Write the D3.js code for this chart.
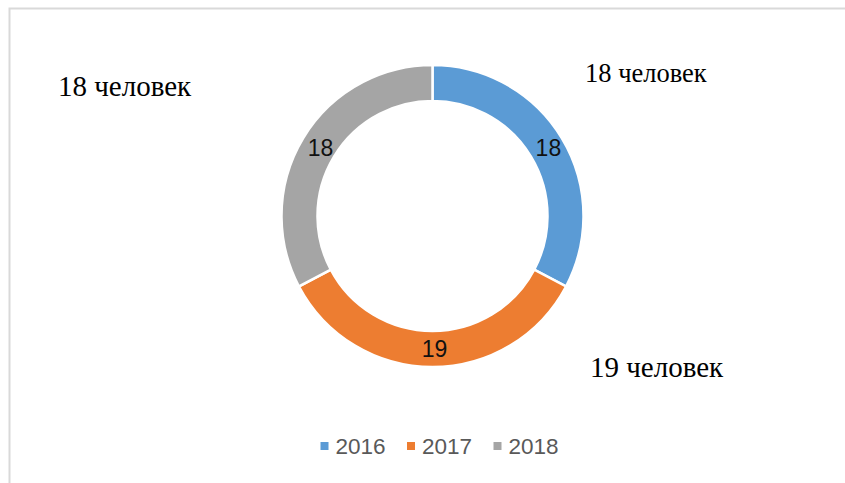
<!DOCTYPE html>
<html>
<head>
<meta charset="utf-8">
<script src="https://cdn.jsdelivr.net/npm/d3@7"></script>
<style>
  body { margin: 0; background: #fff; }
</style>
</head>
<body>
<script>
var w = 845;
var h = 483;

// data
var years = ["2016", "2017", "2018"];
var people = [18, 19, 18];
var notes = ["18 человек", "19 человек", "18 человек"];
var colors = ["#5B9BD5", "#ED7D31", "#A5A5A5"];

var cx = 432.5;
var cy = 216;
var outerR = 151;
var innerR = 115;

var dataset = years.map((y, i) => ({ year: y, value: people[i], note: notes[i] }));

var svg = d3.select("body")
    .append("svg")
    .attr("width", w)
    .attr("height", h);

// chart frame (only top and left edges are inside the picture)
svg.append("rect")
    .attr("x", 9.5)
    .attr("y", 8.5)
    .attr("width", w + 20)
    .attr("height", h + 20)
    .attr("fill", "none")
    .attr("stroke", "#d9d9d9")
    .attr("stroke-width", 2);

var color = d3.scaleOrdinal()
    .domain(years)
    .range(colors);

var pie = d3.pie()
    .sort(null)
    .value(d => d.value);

var arc = d3.arc()
    .innerRadius(innerR)
    .outerRadius(outerR);

var labelArc = d3.arc()
    .innerRadius((innerR + outerR) / 2)
    .outerRadius((innerR + outerR) / 2);

var g = svg.append("g")
    .attr("transform", `translate(${cx},${cy})`);

var arcs = pie(dataset);

g.selectAll("path")
    .data(arcs)
    .enter()
    .append("path")
    .attr("d", arc)
    .attr("fill", d => color(d.data.year))
    .attr("stroke", "#fff")
    .attr("stroke-width", 2.5);

g.selectAll("text.val")
    .data(arcs)
    .enter()
    .append("text")
    .attr("class", "val")
    .attr("transform", d => `translate(${labelArc.centroid(d)})`)
    .attr("dx", 2)
    .attr("dy", "0.36em")
    .attr("text-anchor", "middle")
    .attr("font-family", "'Liberation Sans', Arial, sans-serif")
    .attr("font-size", 23)
    .attr("fill", "#111")
    .text(d => d.data.value);

// outside notes, placed by hand like the original text boxes
var notePos = [
    { x: 585, y: 82, size: 26.5 },
    { x: 590, y: 377, size: 29 },
    { x: 58, y: 96, size: 29 }
];

svg.selectAll("text.note")
    .data(dataset)
    .enter()
    .append("text")
    .attr("class", "note")
    .attr("x", (d, i) => notePos[i].x)
    .attr("y", (d, i) => notePos[i].y)
    .attr("font-family", "'Liberation Serif', 'Times New Roman', serif")
    .attr("font-size", (d, i) => notePos[i].size)
    .attr("fill", "#000")
    .text(d => d.note);

// legend
var legend = svg.append("g")
    .attr("transform", "translate(320,453)");

var item = legend.selectAll("g")
    .data(years)
    .enter()
    .append("g")
    .attr("transform", (d, i) => `translate(${i * 86.5},0)`);

item.append("rect")
    .attr("x", 0.5)
    .attr("y", -11)
    .attr("width", 8)
    .attr("height", 8)
    .attr("fill", d => color(d));

item.append("text")
    .attr("x", 15.5)
    .attr("y", 0.5)
    .attr("font-family", "'Liberation Sans', Arial, sans-serif")
    .attr("font-size", 22.5)
    .attr("fill", "#595959")
    .text(d => d);
</script>
</body>
</html>
